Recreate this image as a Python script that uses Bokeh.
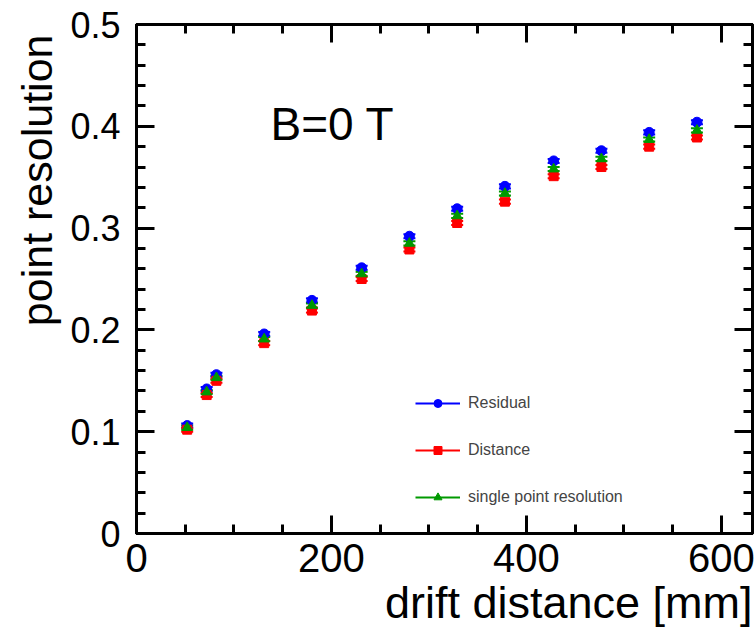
from bokeh.plotting import figure
from bokeh.models import (LinearAxis, FixedTicker, Label, Legend, LegendItem,
                          Whisker, ColumnDataSource, TeeHead, Range1d, Title)
from bokeh.embed import file_html
from bokeh.resources import INLINE

# ---- data ----
drift = [52, 72, 82, 131, 180, 231, 280, 329, 378, 428, 477, 526, 575]
residual = [0.106, 0.142, 0.156, 0.196, 0.229, 0.261, 0.292, 0.319, 0.341, 0.366, 0.376, 0.394, 0.404]
distance = [0.102, 0.136, 0.150, 0.187, 0.219, 0.250, 0.279, 0.305, 0.326, 0.351, 0.360, 0.380, 0.389]
single = [0.104, 0.139, 0.153, 0.191, 0.224, 0.255, 0.285, 0.312, 0.334, 0.358, 0.368, 0.387, 0.396]
err = 0.002

x_ticks = [0, 200, 400, 600]
x_tick_labels = ["0", "200", "400", "600"]
x_minor = [v * 50 for v in range(0, 13)]
y_ticks = [0, 0.1, 0.2, 0.3, 0.4, 0.5]
y_tick_labels = ["0", "0.1", "0.2", "0.3", "0.4", "0.5"]
y_minor = [v * 0.02 for v in range(0, 26)]

FONT = "Liberation Sans"

p = figure(width=755, height=630, output_backend="svg", toolbar_location=None,
           x_range=Range1d(0, 632), y_range=Range1d(0, 0.5),
           min_border_left=136, min_border_right=3, min_border_top=24,
           min_border_bottom=97, x_axis_location=None, y_axis_location=None)
p.grid.visible = False
p.outline_line_color = "black"
p.outline_line_width = 3
p.background_fill_color = "white"
p.border_fill_color = "white"

xt = FixedTicker(ticks=x_ticks, minor_ticks=x_minor)
yt = FixedTicker(ticks=y_ticks, minor_ticks=y_minor)


def style(ax, labels, size):
    ax.axis_line_width = 3
    ax.axis_line_color = "black"
    ax.major_tick_in = 18
    ax.major_tick_out = 0
    ax.minor_tick_in = 9
    ax.minor_tick_out = 0
    ax.major_tick_line_width = 3
    ax.minor_tick_line_width = 3
    ax.major_tick_line_color = "black"
    ax.minor_tick_line_color = "black"
    if labels:
        ax.major_label_text_font = FONT
        ax.major_label_text_font_size = size
        ax.major_label_text_color = "black"
    else:
        ax.major_label_text_font_size = "0px"
        ax.major_label_text_alpha = 0


xb = LinearAxis(ticker=xt, major_label_overrides=dict(zip(x_ticks, x_tick_labels)))
style(xb, True, "40px")
xb.major_label_standoff = 10
p.add_layout(xb, "below")
yl = LinearAxis(ticker=yt, major_label_overrides=dict(zip(y_ticks, y_tick_labels)))
style(yl, True, "36px")
yl.major_label_standoff = 16
p.add_layout(yl, "left")
xa = LinearAxis(ticker=xt)
style(xa, False, "0px")
p.add_layout(xa, "above")
yr = LinearAxis(ticker=yt)
style(yr, False, "0px")
p.add_layout(yr, "right")

series = [
    ("Residual", residual, "blue", "circle", 10),
    ("Distance", distance, "red", "square", 9),
    ("single point resolution", single, "#009900", "triangle", 10),
]
items = []
for name, ys, col, mk, sz in series:
    src = ColumnDataSource(dict(x=drift, y=ys,
                                lo=[v - err for v in ys], hi=[v + err for v in ys]))
    w = Whisker(source=src, base="x", upper="hi", lower="lo", line_color=col, line_width=2,
                upper_head=TeeHead(size=12, line_color=col, line_width=2),
                lower_head=TeeHead(size=12, line_color=col, line_width=2))
    p.add_layout(w)
    sr = p.scatter("x", "y", source=src, marker=mk, size=sz, color=col)
    lr = p.line(x=[-100, -90], y=[-1, -1], line_color=col, line_width=2)
    items.append(LegendItem(label=name, renderers=[lr, sr]))

leg = Legend(items=items, location=(279, 26), border_line_alpha=0,
             background_fill_alpha=0, padding=0, margin=0, spacing=27,
             glyph_width=45, glyph_height=20, label_height=20,
             label_text_font=FONT, label_text_font_size="16px", label_standoff=8)
p.add_layout(leg, "center")

p.add_layout(Label(x=134, y=410, x_units="screen", y_units="screen", text="B=0 T",
                   text_font=FONT, text_font_size="46px", text_color="black",
                   text_baseline="alphabetic"))

p.add_layout(Title(text="drift distance [mm]", align="right", text_font=FONT,
                   text_font_size="45px", text_font_style="normal", text_color="black",
                   standoff=0, offset=0), "below")
p.add_layout(Title(text="point resolution", align="right", text_font=FONT,
                   text_font_size="43px", text_font_style="normal", text_color="black",
                   standoff=13, offset=10), "left")

open("out.html", "w").write(file_html(p, INLINE))
